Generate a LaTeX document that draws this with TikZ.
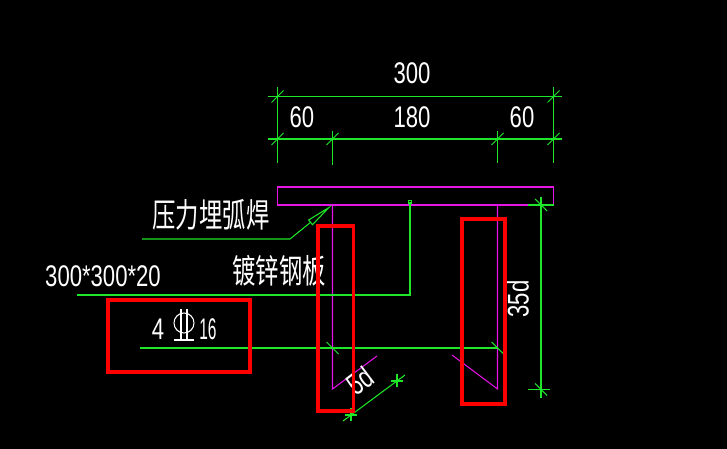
\documentclass[tikz,border=0pt]{standalone}
\usepackage{fontspec}
\setmainfont{Liberation Sans}
\newfontfamily\cjk{Noto Sans CJK SC}
\definecolor{dimgreen}{RGB}{30, 230, 40}
\definecolor{barmagenta}{RGB}{230, 20, 230}
\definecolor{markred}{RGB}{255, 0, 0}
\usetikzlibrary{arrows.meta, positioning, calc}
\tikzset{
  dimline/.style={draw=dimgreen, line width=0.6pt},
  barline/.style={draw=barmagenta, line width=0.6pt},
  markbox/.style={draw=markred, line width=2.2pt, miter limit=10},
  dimtext/.style={text=white, inner sep=0pt, font=\fontsize{17}{17}\selectfont, xscale=0.74, transform shape},
  cjktext/.style={text=white, inner sep=0pt, font=\cjk\fontsize{19}{19}\selectfont, xscale=0.7, transform shape},
  dimtick/.pic={\draw[dimline] (-6,6) -- (6,-6);},
  dimtickb/.pic={\draw[dimline] (-6,-6) -- (6,6);}
}
\begin{document}
\begin{tikzpicture}[x=0.02cm, y=-0.02cm]
  \fill[black] (0,0) rectangle (727,449);
  \useasboundingbox (0,0) rectangle (727,449);

  % Top dimensions
  \draw[dimline] (268,96.5) -- (562,96.5);
  \draw[dimline] (268,139) -- (562,139);
  \draw[dimline] (277.5,87) -- (277.5,163);
  \draw[dimline] (332.5,131) -- (332.5,165);
  \draw[dimline] (497.5,131) -- (497.5,163);
  \draw[dimline] (553.5,87) -- (553.5,163);
  \foreach \px/\py in {277.5/96.5, 553.5/96.5, 277.5/139, 332.5/139, 497.5/139, 553.5/139}
    \pic at (\px,\py) {dimtick};
  \node[dimtext] (toplabel) at (412,73) {300};
  \node[dimtext] (leftlabel) at (302,117) {60};
  \node[dimtext] (midlabel) at (412,117) {180};
  \node[dimtext] (rightlabel) at (522,117) {60};

  % Plate and bars
  \draw[barline] (277.5,187) rectangle (553.5,205);
  \draw[barline] (332.5,205) -- (332.5,389) -- (377,356);
  \draw[barline] (497.5,205) -- (497.5,389) -- (452,355);

  % Weld leader
  \coordinate (weldtip) at (332,205);
  \draw[dimline, {Triangle[open, length=16pt, width=4pt]}-] (weldtip) -- (290,239) -- (142,239);
  \node[cjktext] (weldlabel) at (211,215) {压力埋弧焊};

  % Plate leader
  \coordinate (platedot) at (410,202);
  \draw[dimline] (platedot) -- (410,295) -- (77,295);
  \draw[dimline] (408.5,200.5) rectangle (411.5,203.5);
  \node[cjktext] (platename) at (279,271) {镀锌钢板};
  \node[dimtext] (platesize) at (103,276) {300*300*20};

  % Bar leader
  \draw[dimline] (140,348) -- (497.5,348);
  \pic at (332.5,348) {dimtickb};
  \pic at (497.5,348) {dimtickb};
  \node[dimtext] (barcount) at (158,329) {4};
  \draw[draw=white, line width=0.6pt] (184,323) circle (10);
  \draw[draw=white, line width=0.6pt] (181,309) -- (181,340) (187,309) -- (187,340) (174,340) -- (194,340);
  \node[dimtext, xscale=0.7] (bardia) at (208,329) {16};

  % Depth dimension
  \draw[dimline] (541,197) -- (541,398);
  \draw[dimline] (528,205) -- (553.5,205);
  \draw[dimline] (528,389.5) -- (550,389.5);
  \pic at (541,205) {dimtickb};
  \pic at (541,389.5) {dimtickb};
  \node[rotate=90, dimtext] (depthlabel) at (518,299) {35d};

  % Hook dimension
  \draw[dimline] (343,421) -- (405,375);
  \draw[dimline] (351,408) -- (351,421);
  \draw[dimline] (397,374) -- (397,387);
  \draw[dimline] (345,415) -- (357,415);
  \draw[dimline] (391,381) -- (403,381);
  \node[rotate=37, dimtext] (hooklabel) at (360,381) {5d};

  % Red marks
  \draw[markbox] (318,226) rectangle (353.5,411);
  \draw[markbox] (462,219) rectangle (505,404);
  \draw[markbox] (108,300) rectangle (250,372);
\end{tikzpicture}
\end{document}
